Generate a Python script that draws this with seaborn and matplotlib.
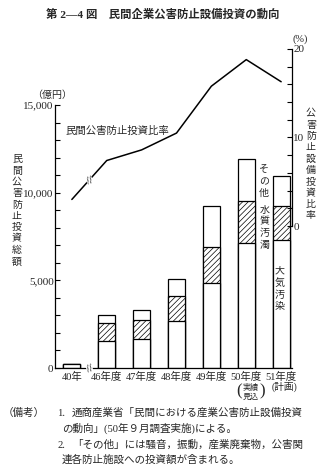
import numpy as np
import pandas as pd
import matplotlib
matplotlib.use("Agg")
import matplotlib.pyplot as plt
from matplotlib.ticker import MultipleLocator, FuncFormatter
import seaborn as sns

# ---- data ----
years = ["40年", "46年度", "47年度", "48年度", "49年度", "50年度", "51年度"]
air = [250, 1560, 1670, 2700, 4860, 7150, 7280]      # 大気汚染 (億円)
water = [0, 990, 1085, 1425, 2025, 2375, 1960]       # 水質汚濁 (億円)
other = [0, 500, 535, 950, 2355, 2380, 1730]         # その他 (億円)
ratio = [3.0, 7.4, 8.6, 10.5, 15.8, 18.8, 16.3]      # 民間公害防止投資比率 (%)
sublabels = {"50年度": "実績\n見込", "51年度": "(計画)"}

sns.set_theme(style="white")
plt.rcParams["font.family"] = ["Liberation Serif", "Noto Sans CJK JP"]
plt.rcParams["hatch.linewidth"] = 0.5
plt.rcParams["axes.unicode_minus"] = False

W, H = 332, 473
fig = plt.figure(figsize=(W / 100, H / 100), dpi=100)
fig.patch.set_facecolor("white")


def P(x, y):
    return x / W, 1 - y / H


x_left, x_right = 55, 292
ax = fig.add_axes([x_left / W, (H - 368) / H, (x_right - x_left) / W, (368 - 105) / H])
ax2 = fig.add_axes([x_left / W, (H - 226) / H, (x_right - x_left) / W, (226 - 49) / H], sharex=ax)

df = pd.DataFrame({"year": years, "air": air, "water": water, "other": other, "ratio": ratio})
df["aw"] = df["air"] + df["water"]
df["total"] = df["aw"] + df["other"]

common = dict(order=years, color="white", edgecolor="black", linewidth=0.9,
              width=0.49, saturation=1, ax=ax)
sns.barplot(data=df, x="year", y="total", **common)
sns.barplot(data=df, x="year", y="aw", hatch="//////", **common)
sns.barplot(data=df, x="year", y="air", **common)

df["pos"] = np.arange(len(years))
sns.lineplot(data=df, x="pos", y="ratio", ax=ax2, color="black", linewidth=1.1)

ax.set_xlim(-0.483, 6.311)
ax.set_ylim(0, 15000)
ax2.set_ylim(0, 20)

# main axis styling
for s in ["top", "right"]:
    ax.spines[s].set_visible(False)
for s in ["left", "bottom"]:
    ax.spines[s].set_color("black")
    ax.spines[s].set_linewidth(0.9)
ax.set_xlabel("")
ax.set_ylabel("")
ax.yaxis.set_major_locator(MultipleLocator(5000))
ax.yaxis.set_minor_locator(MultipleLocator(1000))
ax.yaxis.set_major_formatter(FuncFormatter(lambda v, p: f"{int(v):,}"))
ax.tick_params(axis="y", which="both", direction="in", left=True, length=3.5,
               width=0.8, color="black", labelsize=8, pad=1)
ax.tick_params(axis="x", length=0, labelsize=7.5, pad=3)
ax.set_xticks(range(len(years)))
ax.set_xticklabels(years, family=["Liberation Serif", "Noto Sans CJK JP"])
ax.patch.set_alpha(0)

# secondary axis styling
ax2.patch.set_visible(False)
for s in ["top", "left", "bottom"]:
    ax2.spines[s].set_visible(False)
ax2.spines["right"].set_color("black")
ax2.spines["right"].set_linewidth(0.9)
ax2.yaxis.tick_right()
ax2.yaxis.set_major_locator(MultipleLocator(10))
ax2.yaxis.set_minor_locator(MultipleLocator(2))
ax2.tick_params(axis="y", which="both", direction="in", right=True, length=3.5,
                width=0.8, color="black", labelsize=8, pad=1)
ax2.tick_params(axis="x", bottom=False, labelbottom=False)
ax2.set_xlabel("")
ax2.set_ylabel("")

# break marks
ax2.text(0.5, (ratio[0] + ratio[1]) / 2, "//", ha="center", va="center", fontsize=6,
         family="DejaVu Sans", rotation=20,
         bbox=dict(facecolor="white", edgecolor="none", pad=0.2))
ax.text(0.5, 0, "//", ha="center", va="center", fontsize=6, family="DejaVu Sans",
        rotation=20, bbox=dict(facecolor="white", edgecolor="none", pad=0.2), clip_on=False)

jp = ["Liberation Serif", "Noto Sans CJK JP"]
vsp = 1.32

# title
fig.text(*P(163, 14), "第 2—4 図　民間企業公害防止設備投資の動向", ha="center", va="center",
         fontsize=8.2, fontweight="bold", family=jp)

# unit labels
fig.text(*P(52, 95), "（億円）", ha="center", va="center", fontsize=7.2, family=jp)
fig.text(*P(300, 39), "(%)", ha="center", va="center", fontsize=7.5, family=jp)

# axis titles (vertical)
fig.text(*P(17, 211), "\n".join("民間公害防止投資総額"), ha="center", va="center",
         fontsize=7.2, family=jp, linespacing=vsp)
fig.text(*P(311, 165), "\n".join("公害防止設備投資比率"), ha="center", va="center",
         fontsize=7.2, family=jp, linespacing=vsp)

# line label
fig.text(*P(117, 131), "民間公害防止投資比率", ha="center", va="center", fontsize=7.5, family=jp)

# segment labels
fig.text(*P(264, 182), "\n".join("その他"), ha="center", va="center", fontsize=7.2,
         family=jp, linespacing=vsp)
fig.text(*P(265, 228), "\n".join("水質汚濁"), ha="center", va="center", fontsize=7.2,
         family=jp, linespacing=vsp)
fig.text(*P(280, 289), "\n".join("大気汚染"), ha="center", va="center", fontsize=7.2,
         family=jp, linespacing=vsp)

# sub labels under x ticks
fig.text(*P(251, 392), sublabels["50年度"], ha="center", va="center", fontsize=5.8,
         family=jp, linespacing=1.15)
fig.text(*P(239.5, 391), "(", ha="center", va="center", fontsize=12, family="Liberation Serif")
fig.text(*P(262.5, 391), ")", ha="center", va="center", fontsize=12, family="Liberation Serif")
fig.text(*P(284, 387), sublabels["51年度"], ha="center", va="center", fontsize=7, family=jp)

# notes
fs = 7.6
fig.text(*P(3, 413), "（備考）", ha="left", va="center", fontsize=fs, family=jp)
fig.text(*P(57, 413), "1.", ha="left", va="center", fontsize=fs, family=jp)
fig.text(*P(72, 413), "通商産業省「民間における産業公害防止設備投資", ha="left", va="center",
         fontsize=fs, family=jp)
fig.text(*P(62, 428), "の動向」(50年９月調査実施)による。", ha="left", va="center",
         fontsize=fs, family=jp)
fig.text(*P(57, 445), "2.", ha="left", va="center", fontsize=fs, family=jp)
fig.text(*P(72, 445), "「その他」には騒音，振動，産業廃棄物，公害関", ha="left", va="center",
         fontsize=fs, family=jp)
fig.text(*P(62, 460), "連各防止施設への投資額が含まれる。", ha="left", va="center",
         fontsize=fs, family=jp)

fig.savefig("out.png", dpi=100)
